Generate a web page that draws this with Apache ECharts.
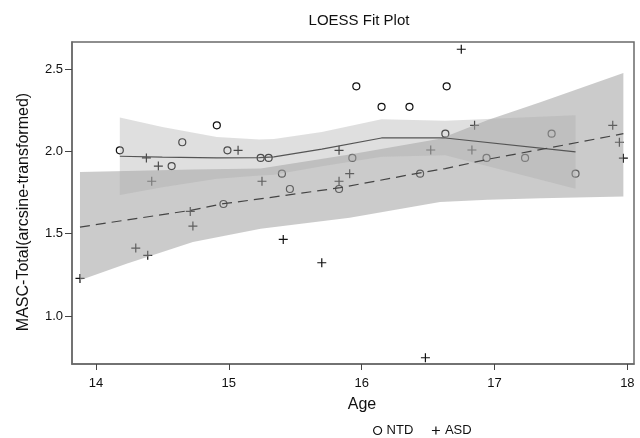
<!DOCTYPE html>
<html><head><meta charset="utf-8">
<script src="https://cdn.jsdelivr.net/npm/echarts@6/dist/echarts.min.js"></script>
<style>html,body{margin:0;padding:0;background:#fff}#c{width:640px;height:438px}</style>
</head><body><div id="c"></div>
<script>
// tick labels
const xTicks = [14, 15, 16, 17, 18];
const yTicks = [1.0, 1.5, 2.0, 2.5];
const legendNames = ['NTD', 'ASD'];

// NTD observations
const ntdAge  = [14.18, 14.57, 14.65, 14.91, 14.96, 14.99, 15.24, 15.30, 15.40, 15.46, 15.83, 15.93, 15.96, 16.15, 16.36, 16.44, 16.63, 16.64, 16.94, 17.23, 17.43, 17.61];
const ntdMasc = [2.006, 1.91, 2.055, 2.158, 1.68, 2.006, 1.96, 1.96, 1.864, 1.771, 1.771, 1.96, 2.395, 2.27, 2.27, 1.864, 2.107, 2.395, 1.96, 1.96, 2.107, 1.864];

// ASD observations
const asdAge  = [13.88, 14.30, 14.38, 14.39, 14.42, 14.47, 14.71, 14.73, 15.07, 15.25, 15.41, 15.70, 15.83, 15.83, 15.91, 16.48, 16.52, 16.75, 16.83, 16.85, 17.89, 17.94, 17.97];
const asdMasc = [1.228, 1.412, 1.96, 1.368, 1.818, 1.91, 1.635, 1.546, 2.006, 1.818, 1.465, 1.323, 2.006, 1.818, 1.864, 0.746, 2.008, 2.62, 2.008, 2.158, 2.158, 2.055, 1.958];

// NTD LOESS fit and confidence band
const ntdFitX   = [14.18, 14.5, 14.91, 15.23, 15.34, 15.7, 16.15, 16.63, 17.61];
const ntdFitY   = [1.97, 1.965, 1.96, 1.962, 1.966, 2.013, 2.081, 2.081, 1.996];
const ntdUpper  = [2.205, 2.148, 2.087, 2.071, 2.075, 2.117, 2.195, 2.186, 2.219];
const ntdLower  = [1.735, 1.782, 1.833, 1.853, 1.857, 1.909, 1.967, 1.976, 1.773];

// ASD LOESS fit and confidence band
const asdFitX   = [13.88, 14.71, 14.96, 15.19, 15.84, 16.43, 16.63, 16.97, 17.42, 17.97];
const asdFitY   = [1.54, 1.641, 1.682, 1.706, 1.779, 1.868, 1.895, 1.955, 2.022, 2.107];
const asdBandX  = [13.88, 14.23, 14.73, 15.24, 15.91, 16.59, 16.95, 17.35, 17.97];
const asdLower  = [1.216, 1.317, 1.449, 1.53, 1.597, 1.692, 1.705, 1.715, 1.726];
const asdUpper  = [1.874, 1.88, 1.89, 1.895, 1.98, 2.077, 2.19, 2.30, 2.476];

const FONT = 'Liberation Sans, Arial, Helvetica, sans-serif';
const plusPath = 'path://M0,4H8M4,0V8';
const circlePath = 'path://M8,4A4,4,0,1,1,0,4A4,4,0,1,1,8,4Z';

function zip(a, b) { return a.map((v, i) => [v, b[i]]); }

function bandSeries(name, xs, lo, hi, color, z) {
  return {
    type: 'custom', name: name, silent: true, z: z,
    data: xs.map((x, i) => [x, lo[i], hi[i]]),
    encode: { x: 0, y: [1, 2] },
    renderItem: function (params, api) {
      if (params.dataIndex !== 0) return null;
      const pts = [];
      for (let i = 0; i < xs.length; i++) pts.push(api.coord([xs[i], hi[i]]));
      for (let i = xs.length - 1; i >= 0; i--) pts.push(api.coord([xs[i], lo[i]]));
      return { type: 'polygon', shape: { points: pts }, style: { fill: color } };
    }
  };
}

const chart = echarts.init(document.getElementById('c'), null, { renderer: 'canvas' });
chart.setOption({
  animation: false,
  backgroundColor: '#fff',
  textStyle: { fontFamily: FONT },
  title: {
    text: 'LOESS Fit Plot', left: 354, top: 8, textAlign: 'center',
    textStyle: { fontFamily: FONT, fontSize: 15, fontWeight: 'normal', color: '#111' }
  },
  legend: {
    left: 368, top: 419, itemWidth: 8, itemHeight: 8, itemGap: 18,
    textStyle: { fontFamily: FONT, fontSize: 13, color: '#111' },
    data: [
      { name: legendNames[0], icon: circlePath, itemStyle: { color: 'rgba(0,0,0,0)', borderColor: '#111', borderWidth: 1.2 } },
      { name: legendNames[1], icon: plusPath, itemStyle: { color: 'rgba(0,0,0,0)', borderColor: '#111', borderWidth: 1.2 } }
    ]
  },
  grid: { left: 72, right: 6, top: 42, bottom: 74, show: true, borderColor: '#6a6a6a', borderWidth: 1.5, backgroundColor: 'transparent' },
  xAxis: {
    type: 'value', min: 13.82, max: 18.05,
    name: 'Age', nameLocation: 'middle', nameGap: 33,
    nameTextStyle: { fontFamily: FONT, fontSize: 16, color: '#111', padding: [0, 0, 0, 18] },
    axisLine: { show: true, lineStyle: { color: '#6a6a6a', width: 1.5 } },
    axisTick: { show: true, customValues: xTicks, length: 6, lineStyle: { color: '#444' } },
    axisLabel: { customValues: xTicks, fontSize: 13, color: '#111', margin: 13, fontFamily: FONT },
    splitLine: { show: false }
  },
  yAxis: {
    type: 'value', min: 0.708, max: 2.664,
    name: 'MASC-Total(arcsine-transformed)', nameLocation: 'middle', nameGap: 40,
    nameTextStyle: { fontFamily: FONT, fontSize: 16, color: '#111', padding: [0, 18, 0, 0] },
    axisLine: { show: true, lineStyle: { color: '#6a6a6a', width: 1.5 } },
    axisTick: { show: true, customValues: yTicks, length: 7, lineStyle: { color: '#444' } },
    axisLabel: { customValues: yTicks, fontSize: 13, color: '#111', margin: 9, fontFamily: FONT, formatter: v => Number(v).toFixed(1) },
    splitLine: { show: false }
  },
  series: [
    {
      name: legendNames[0], type: 'scatter', z: 1, symbol: 'circle', symbolSize: 7,
      itemStyle: { color: 'rgba(0,0,0,0)', borderColor: '#111', borderWidth: 1.2, opacity: 1 },
      data: zip(ntdAge, ntdMasc)
    },
    {
      name: legendNames[1], type: 'scatter', z: 1, symbol: plusPath, symbolSize: 9,
      itemStyle: { color: 'rgba(0,0,0,0)', borderColor: '#111', borderWidth: 1.2, opacity: 1 },
      data: zip(asdAge, asdMasc)
    },
    bandSeries('ASD band', asdBandX, asdLower, asdUpper, 'rgba(160,160,160,0.55)', 2),
    bandSeries('NTD band', ntdFitX, ntdLower, ntdUpper, 'rgba(170,170,170,0.38)', 3),
    {
      name: 'NTD fit', type: 'line', z: 4, symbol: 'none', smooth: false, silent: true,
      lineStyle: { color: '#555', width: 1.2 },
      data: zip(ntdFitX, ntdFitY)
    },
    {
      name: 'ASD fit', type: 'line', z: 4, symbol: 'none', smooth: false, silent: true,
      lineStyle: { color: '#444', width: 1.2, type: [10, 6] },
      data: zip(asdFitX, asdFitY)
    }
  ]
});
</script>
</body></html>
